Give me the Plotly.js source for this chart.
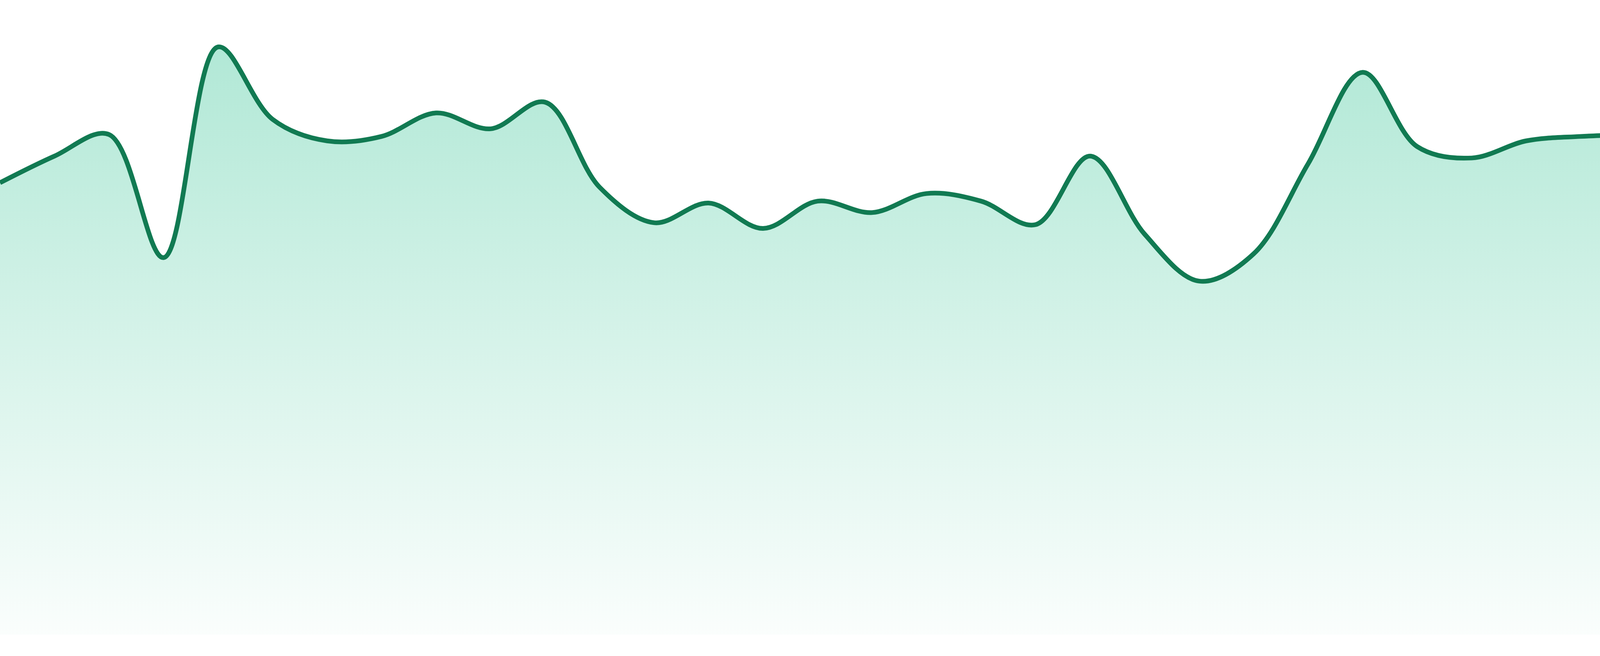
<!DOCTYPE html>
<html>
<head>
<meta charset="utf-8">
<script src="https://cdn.plot.ly/plotly-3.0.1.min.js"></script>
<style>
  html, body { margin: 0; padding: 0; background: #fff; }
  #plot { width: 4800px; height: 1680px; }
</style>
</head>
<body>
<div id="plot"></div>
<script>
// Data (one value per period; the last one sits just past the right edge)
const periods = [0, 1, 2, 3, 4, 5, 6, 7, 8, 9, 10, 11, 12, 13, 14, 15, 16, 17,
                 18, 19, 20, 21, 22, 23, 24, 25, 26, 27, 28, 29, 30, 31, 32, 33, 34, 35];
const values = [71.2, 75.4, 78.8, 59.4, 92.6, 81.2, 77.8, 78.5, 82.2, 79.7, 83.9, 70.5,
                64.9, 68.0, 64.0, 68.3, 66.5, 69.5, 68.3, 64.6, 75.4, 63.1, 55.7, 60.0,
                74.2, 88.6, 76.9, 75.1, 77.8, 78.5, 78.8, 79.1, 79.4, 79.7, 79.9, 80.0];

const lineColor = '#117a52';

const areaTrace = {
    x: periods,
    y: values,
    type: 'scatter',
    mode: 'lines',
    line: { color: lineColor, width: 12, shape: 'spline', smoothing: 1 },
    fill: 'tozeroy',
    fillgradient: {
        type: 'vertical',
        start: 0,
        stop: 100,
        colorscale: [
            [0, 'rgba(16,185,129,0.02)'],
            [1, 'rgba(16,185,129,0.35)']
        ]
    },
    hoverinfo: 'skip'
};

const layout = {
    width: 4800,
    height: 1680,
    margin: { l: 0, r: 0, t: 0, b: 55 },
    paper_bgcolor: 'white',
    plot_bgcolor: 'white',
    showlegend: false,
    xaxis: {
        range: [0, 34.4],
        visible: false,
        fixedrange: true
    },
    yaxis: {
        range: [0, 100],
        visible: false,
        fixedrange: true
    }
};

Plotly.newPlot('plot', [areaTrace], layout, { displayModeBar: false, staticPlot: true });
</script>
</body>
</html>
